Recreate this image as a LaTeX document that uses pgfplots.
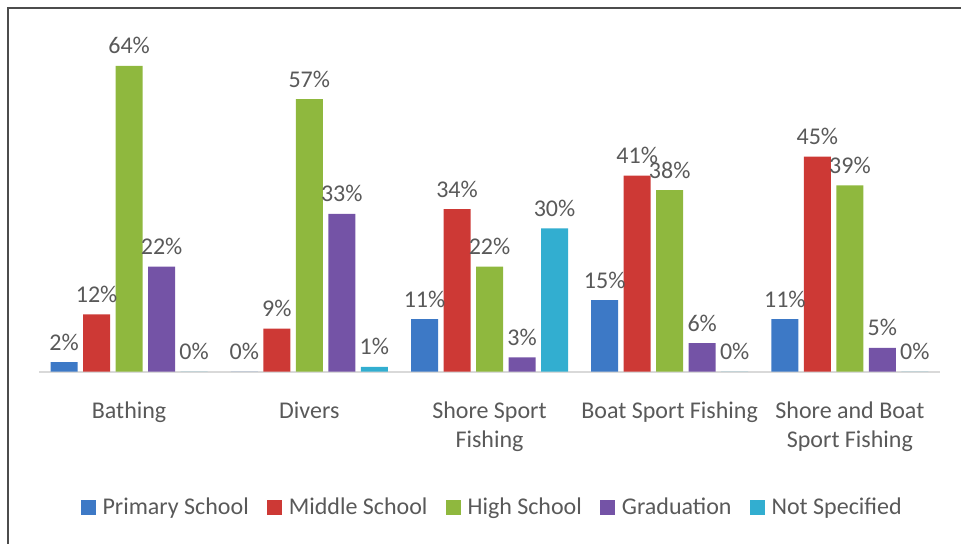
\documentclass[border=0pt]{standalone}
\usepackage{fontspec}
\setmainfont{Carlito}
\usepackage{pgfplots}
\pgfplotsset{compat=1.18}

\definecolor{txt}{HTML}{595959}
\definecolor{cblue}{HTML}{3D79C6}
\definecolor{cred}{HTML}{CD3935}
\definecolor{cgreen}{HTML}{8FB83E}
\definecolor{cpurple}{HTML}{7453A6}
\definecolor{ccyan}{HTML}{32AED0}

% two centred lines, baseline on the first one
\newcommand\twoline[2]{\vtop{\halign{\hfil##\hfil\cr #1\cr #2\cr}}}

\pgfplotstableread{
x prim mid high grad ns
0 2  12 64 22 0
1 0  9  57 33 1
2 11 34 22 3  30
3 15 41 38 6  0
4 11 45 39 5  0
}\edu

\begin{document}
\begin{tikzpicture}
\path[use as bounding box] (0,0) rectangle (480.5pt,271.5pt);
\draw[black!70, line width=1.2pt] (4pt,-10pt) -- (4pt,267.5pt) -- (490pt,267.5pt);
\begin{axis}[
  at={(19.5pt,85.65pt)}, anchor=south west,
  scale only axis, width=450.5pt, height=167.3pt,
  ybar=2.75pt, bar width=13.5pt,
  xmin=-0.5, xmax=4.5, ymin=0, ymax=70,
  axis y line=none, axis x line*=bottom,
  x axis line style={draw=black!15, line width=0.8pt},
  xtick={0,...,4}, major tick length=0pt,
  xticklabels={Bathing, Divers, \twoline{Shore Sport}{Fishing}, Boat Sport Fishing, \twoline{Shore and Boat}{Sport Fishing}},
  xticklabel style={anchor=base, yshift=-23.5pt, font=\fontsize{12}{14.5}\selectfont, text=txt},
  /pgf/number format/assume math mode=true,
  nodes near coords={\pgfmathprintnumber{\pgfplotspointmeta}\%},
  every node near coord/.append style={anchor=base, yshift=6pt, font=\fontsize{12}{14}\selectfont, text=txt},
  legend columns=-1,
  legend style={at={(0.504,-0.405)}, anchor=center, draw=none, fill=none,
    font=\fontsize{12}{14}\selectfont, text=txt,
    /tikz/every odd column/.append style={column sep=1.5pt},
    /tikz/every even column/.append style={column sep=7pt}},
  legend image code/.code={\path[#1] (0pt,-3.75pt) rectangle (7.5pt,3.75pt);},
  every axis plot/.append style={draw=none},
]
\addplot[fill=cblue] table[x=x,y=prim]{\edu};
\addplot[fill=cred] table[x=x,y=mid]{\edu};
\addplot[fill=cgreen] table[x=x,y=high]{\edu};
\addplot[fill=cpurple] table[x=x,y=grad]{\edu};
\addplot[fill=ccyan] table[x=x,y=ns]{\edu};
\legend{Primary School, Middle School, High School, Graduation, Not Specified}
\end{axis}
\end{tikzpicture}
\end{document}
